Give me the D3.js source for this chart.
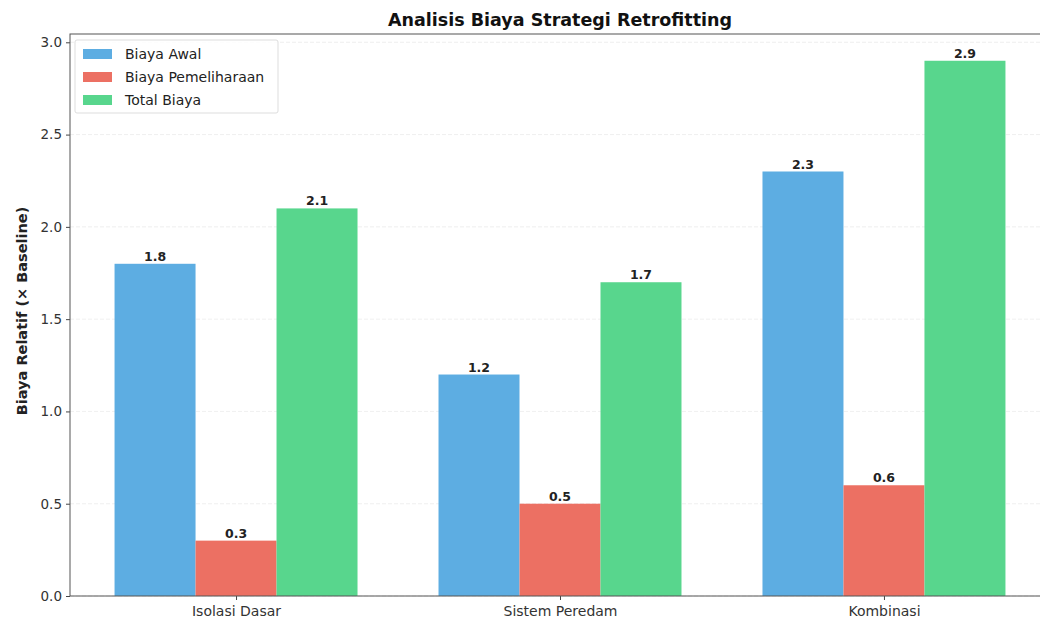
<!DOCTYPE html>
<html>
<head>
<meta charset="utf-8">
<script src="https://cdn.jsdelivr.net/npm/d3@7"></script>
<style>
  html, body { margin: 0; padding: 0; background: #fff; }
  svg { display: block; font-family: "DejaVu Sans", sans-serif; }
</style>
</head>
<body>
<svg id="chart" width="1040" height="621"></svg>
<script>
// Retrofitting strategy cost comparison (relative to baseline)
const categories = ["Isolasi Dasar", "Sistem Peredam", "Kombinasi"];
const seriesNames = ["Biaya Awal", "Biaya Pemeliharaan", "Total Biaya"];
const biayaAwal = [1.8, 1.2, 2.3];
const biayaPemeliharaan = [0.3, 0.5, 0.6];
const totalBiaya = [2.1, 1.7, 2.9];
const yTicks = [0.0, 0.5, 1.0, 1.5, 2.0, 2.5, 3.0];
const colors = ["#5dade2", "#ec7063", "#58d68d"];

const seriesValues = [biayaAwal, biayaPemeliharaan, totalBiaya];
const barWidth = 0.25;

const svg = d3.select("#chart");
const margin = { left: 70, right: -10, top: 34, bottom: 25 };
const W = 1040, H = 621;
const plotW = W - margin.left - margin.right;
const plotH = H - margin.top - margin.bottom;

const x = d3.scaleLinear().domain([-0.5125, 2.5125]).range([margin.left, margin.left + plotW]);
const y = d3.scaleLinear().domain([0, 3.045]).range([margin.top + plotH, margin.top]);

// horizontal grid
svg.append("g")
  .selectAll("line")
  .data(yTicks)
  .join("line")
  .attr("x1", margin.left).attr("x2", margin.left + plotW)
  .attr("y1", d => y(d)).attr("y2", d => y(d))
  .attr("stroke", "#ebebeb").attr("stroke-width", 0.8)
  .attr("stroke-dasharray", "4,2");

// bars with value labels
const offsets = [-barWidth, 0, barWidth];
seriesValues.forEach((vals, si) => {
  const g = svg.append("g");
  g.selectAll("rect")
    .data(vals)
    .join("rect")
    .attr("x", (d, i) => x(i + offsets[si] - barWidth / 2))
    .attr("width", (d, i) => x(i + offsets[si] + barWidth / 2) - x(i + offsets[si] - barWidth / 2))
    .attr("y", d => y(d))
    .attr("height", d => y(0) - y(d))
    .attr("fill", colors[si]);
  g.selectAll("text")
    .data(vals)
    .join("text")
    .attr("x", (d, i) => x(i + offsets[si]))
    .attr("y", d => y(d) - 3)
    .attr("text-anchor", "middle")
    .attr("font-size", 12.5)
    .attr("font-weight", "bold")
    .attr("fill", "#222")
    .text(d => d.toFixed(1));
});

// axes
const yAxis = d3.axisLeft(y).tickValues(yTicks).tickFormat(d3.format(".1f")).tickSize(4).tickPadding(4);
const yG = svg.append("g").attr("transform", `translate(${margin.left},0)`).call(yAxis);
const xAxis = d3.axisBottom(x).tickValues([0, 1, 2]).tickFormat(i => categories[i]).tickSize(4).tickPadding(6);
const xG = svg.append("g").attr("transform", `translate(0,${margin.top + plotH})`).call(xAxis);
[yG, xG].forEach(g => {
  g.select(".domain").remove();
  g.selectAll("line").attr("stroke", "#444");
  g.selectAll("text").attr("font-size", 13.5).attr("fill", "#333").attr("font-family", "DejaVu Sans, sans-serif");
});
xG.selectAll("text").attr("font-size", 14);

// spines
svg.append("rect")
  .attr("x", margin.left).attr("y", margin.top)
  .attr("width", plotW).attr("height", plotH)
  .attr("fill", "none").attr("stroke", "#555").attr("stroke-width", 1);

// title
svg.append("text")
  .attr("x", margin.left + plotW / 2).attr("y", 26)
  .attr("text-anchor", "middle")
  .attr("font-size", 17.5)
  .attr("font-weight", "bold")
  .attr("fill", "#111")
  .text("Analisis Biaya Strategi Retrofitting");

// y label
svg.append("text")
  .attr("transform", `translate(27,${margin.top + plotH / 2 - 4}) rotate(-90)`)
  .attr("text-anchor", "middle")
  .attr("font-size", 14.5)
  .attr("font-weight", "bold")
  .attr("fill", "#222")
  .text("Biaya Relatif (× Baseline)");

// legend
const lg = svg.append("g").attr("transform", `translate(${margin.left + 5},${margin.top + 6})`);
lg.append("rect")
  .attr("width", 203).attr("height", 73).attr("rx", 2)
  .attr("fill", "#fff").attr("fill-opacity", 0.85)
  .attr("stroke", "#ddd").attr("stroke-width", 1);
seriesNames.forEach((name, i) => {
  const row = lg.append("g").attr("transform", `translate(8,${14 + i * 23})`);
  row.append("rect").attr("x", 0).attr("y", -5).attr("width", 29).attr("height", 10).attr("fill", colors[i]);
  row.append("text").attr("x", 42).attr("y", 5).attr("font-size", 14).attr("fill", "#222").text(name);
});
</script>
</body>
</html>
